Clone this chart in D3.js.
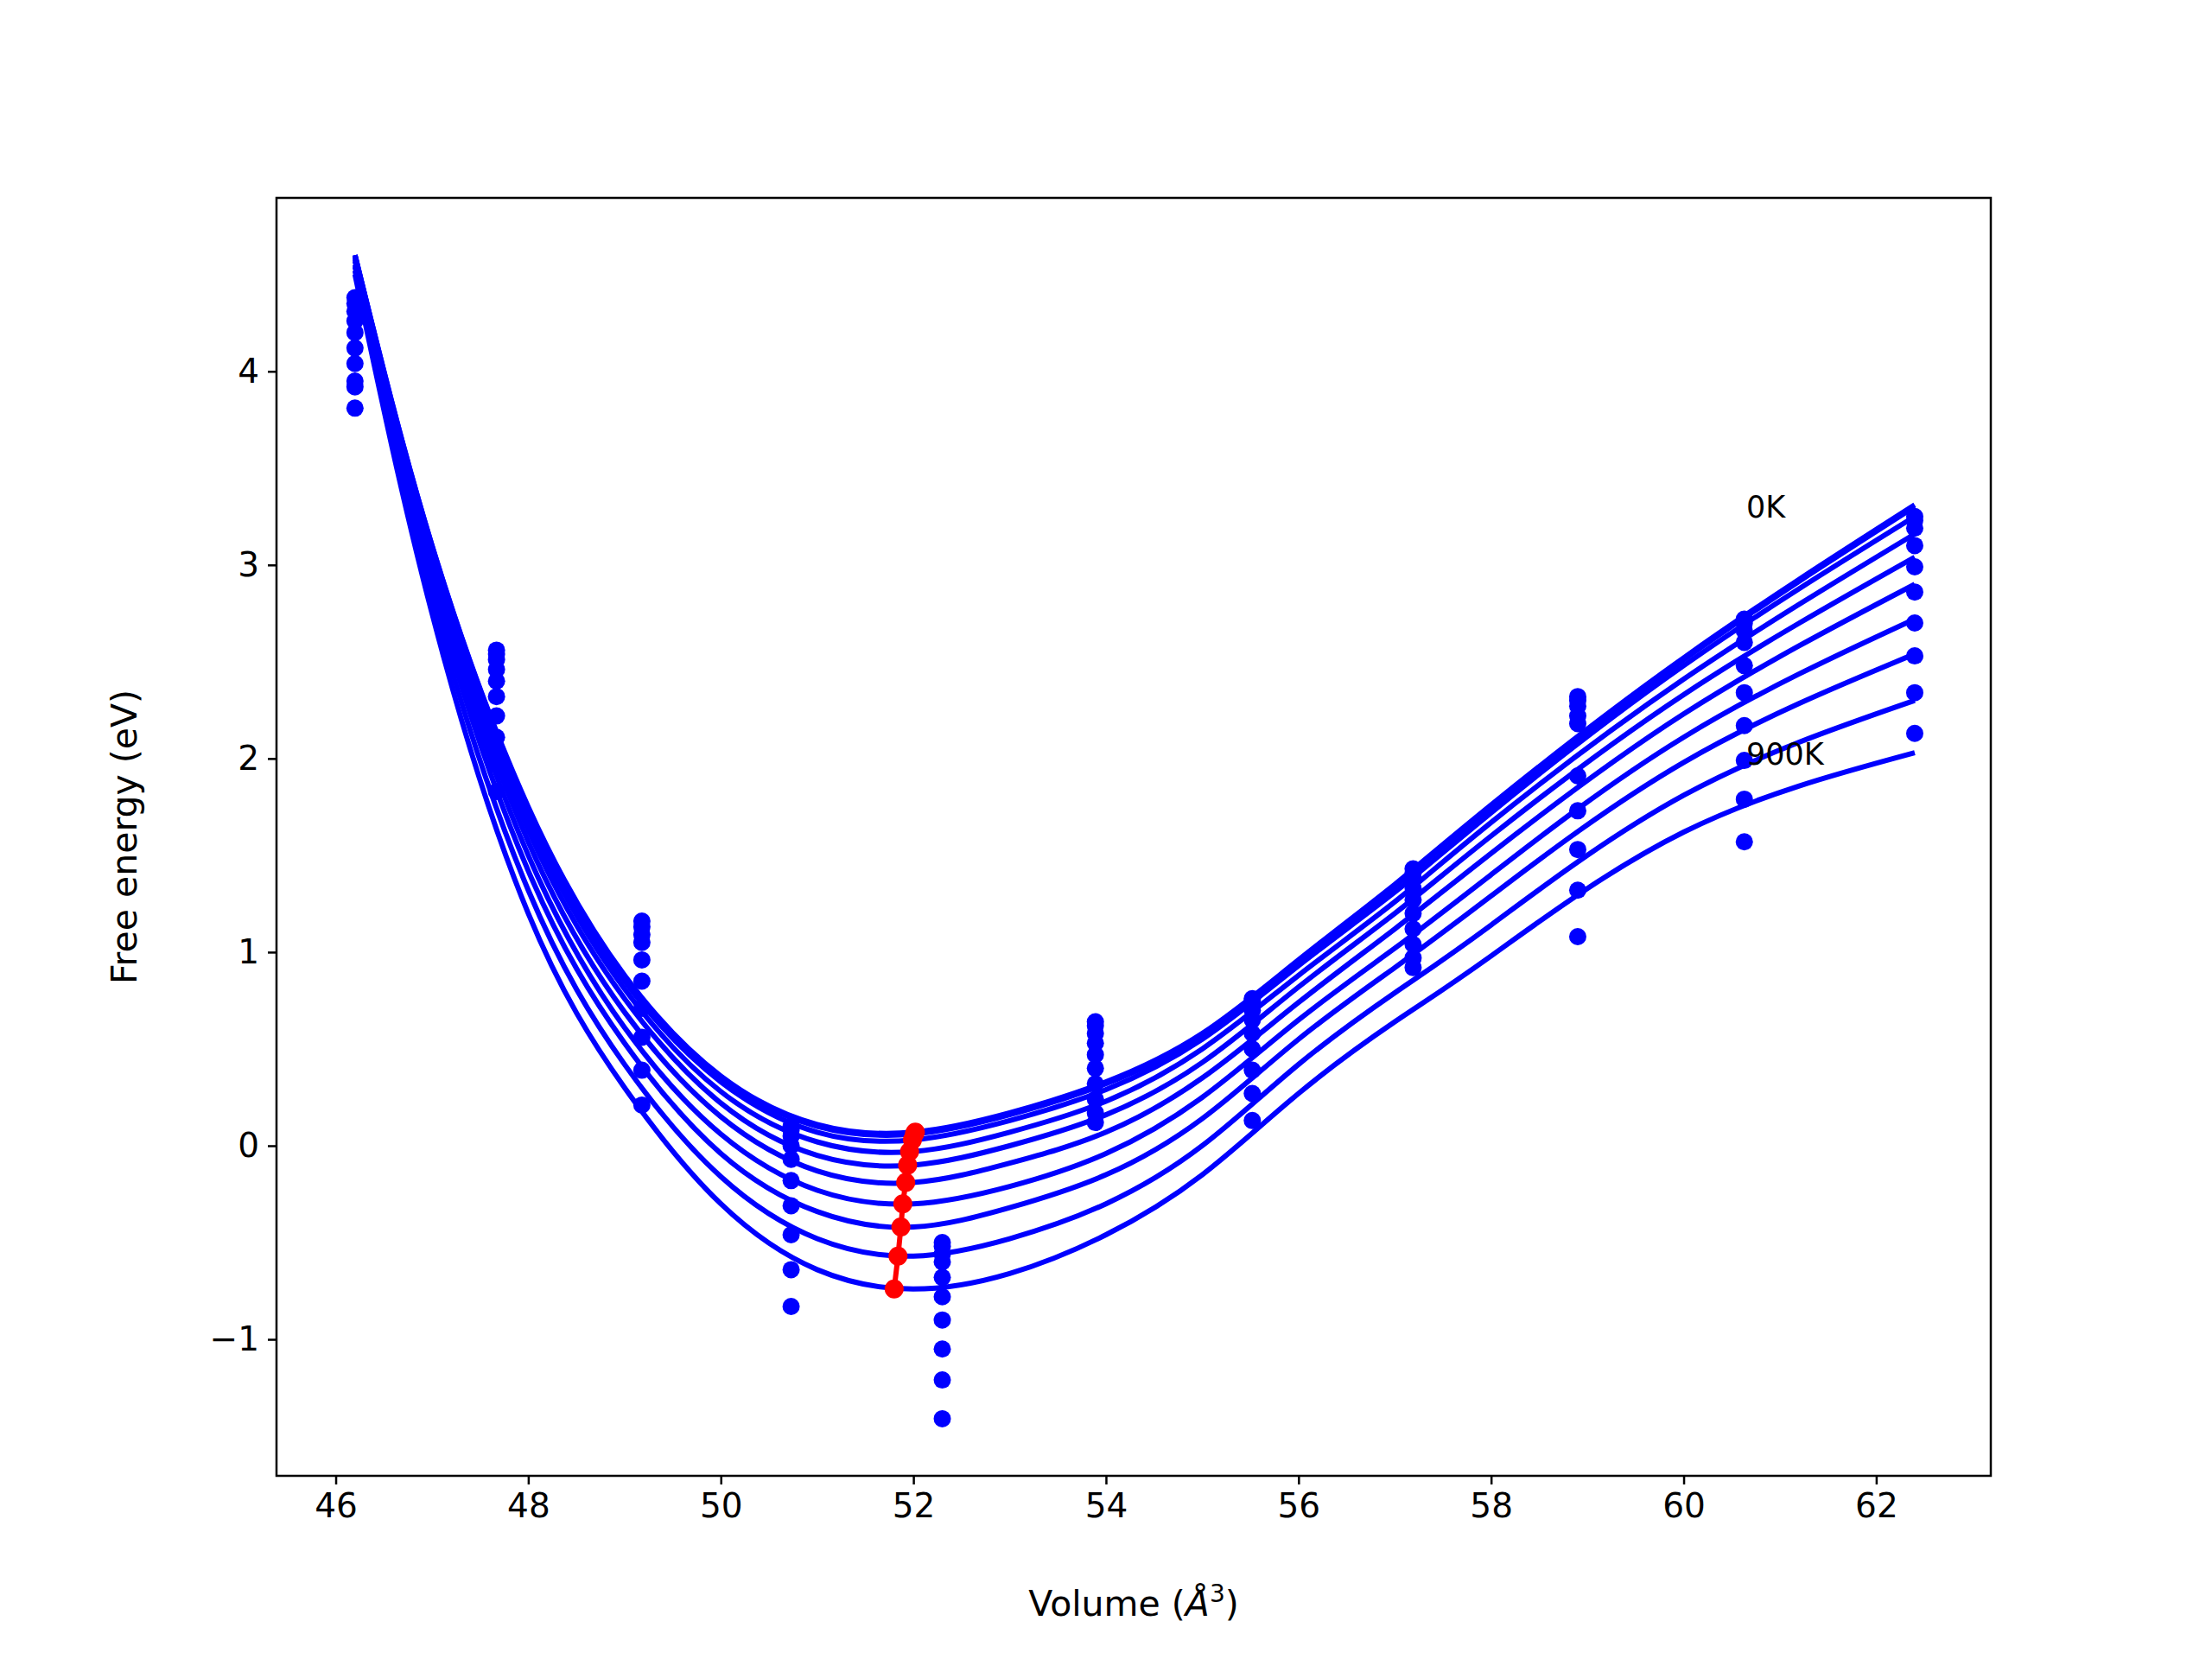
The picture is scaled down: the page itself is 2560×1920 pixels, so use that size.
<!DOCTYPE html>
<html><head><meta charset="utf-8">
<script src="https://cdn.jsdelivr.net/npm/d3@7"></script>
<style>body{margin:0;background:#fff}text{font-family:"DejaVu Sans",sans-serif}</style>
</head><body><svg id="c" width="2560" height="1920"></svg>
<script>
const temps=[0,100,200,300,400,500,600,700,800,900];
const pointVolumes=[46.2,47.67,49.18,50.73,52.3,53.89,55.52,57.19,58.9,60.63,62.4];
// point energies per volume (rows), one value per temperature
const pointEnergies=[
 [4.38,4.35,4.31,4.26,4.20,4.12,4.04,3.95,3.92,3.81],
 [2.56,2.54,2.51,2.46,2.40,2.32,2.22,2.11,1.97,1.83],
 [1.16,1.13,1.09,1.05,0.96,0.85,0.71,0.56,0.39,0.21],
 [0.10,0.08,0.05,0.00,-0.07,-0.18,-0.31,-0.46,-0.64,-0.83],
 [-0.50,-0.52,-0.56,-0.60,-0.68,-0.78,-0.90,-1.05,-1.21,-1.41],
 [0.64,0.62,0.58,0.53,0.47,0.40,0.32,0.24,0.17,0.12],
 [0.76,0.75,0.73,0.70,0.65,0.58,0.50,0.39,0.27,0.13],
 [1.43,1.41,1.38,1.33,1.27,1.20,1.12,1.04,0.97,0.92],
 [2.32,2.30,2.27,2.22,2.18,1.91,1.73,1.53,1.32,1.08],
 [2.72,2.70,2.66,2.60,2.48,2.34,2.17,1.99,1.79,1.57],
 [3.25,3.23,3.19,3.10,2.99,2.86,2.70,2.53,2.34,2.13]];
const curveVolumes=[46.2,47,48,49,50,51,52,53,54,55,56,57,58,60,62.4];
const curveEnergies=[
 [4.60,3.10,1.75,0.88,0.36,0.11,0.07,0.17,0.33,0.58,0.96,1.35,1.76,2.52,3.31],
 [4.60,3.10,1.74,0.87,0.35,0.10,0.06,0.16,0.32,0.57,0.95,1.34,1.75,2.51,3.30],
 [4.60,3.08,1.72,0.85,0.33,0.07,0.03,0.13,0.29,0.55,0.93,1.31,1.72,2.48,3.25],
 [4.59,3.06,1.68,0.81,0.28,0.02,-0.03,0.07,0.23,0.50,0.88,1.26,1.67,2.41,3.16],
 [4.58,3.03,1.63,0.76,0.22,-0.05,-0.10,0.00,0.16,0.43,0.82,1.20,1.60,2.33,3.04],
 [4.57,2.99,1.57,0.69,0.15,-0.13,-0.19,-0.09,0.07,0.35,0.74,1.12,1.51,2.23,2.90],
 [4.55,2.94,1.50,0.61,0.06,-0.23,-0.30,-0.21,-0.04,0.25,0.65,1.02,1.40,2.11,2.72],
 [4.54,2.89,1.42,0.53,-0.04,-0.34,-0.42,-0.32,-0.15,0.14,0.55,0.92,1.29,1.98,2.54],
 [4.52,2.82,1.32,0.42,-0.16,-0.48,-0.57,-0.48,-0.30,0.00,0.42,0.79,1.14,1.81,2.30],
 [4.50,2.75,1.20,0.30,-0.30,-0.64,-0.74,-0.66,-0.46,-0.15,0.27,0.64,0.98,1.62,2.03]];
const minVolumes=[52.02,52.01,51.99,51.96,51.94,51.92,51.89,51.87,51.84,51.80];
const minEnergies=[0.07,0.06,0.03,-0.03,-0.10,-0.19,-0.30,-0.42,-0.57,-0.74];
const xTicks=[46,48,50,52,54,56,58,60,62];
const yTicks=[-1,0,1,2,3,4];

const L=320,R=2304,T=229,B=1708;
const svg=d3.select("#c");
const x=d3.scaleLinear().domain([45.385,63.19]).range([L,R]);
const y=d3.scaleLinear().domain([-1.705,4.896]).range([B,T]);
const blue="#0000ff";
const line=d3.line().x(d=>x(d[0])).y(d=>y(d[1])).curve(d3.curveNatural);
const g=svg.append("g");
curveEnergies.forEach(row=>{
  g.append("path").attr("d",line(curveVolumes.map((v,i)=>[v,row[i]])))
   .attr("fill","none").attr("stroke",blue).attr("stroke-width",6);
});
pointVolumes.forEach((v,i)=>pointEnergies[i].forEach(e=>{
  g.append("circle").attr("cx",x(v)).attr("cy",y(e)).attr("r",10).attr("fill",blue);
}));
const mins=minVolumes.map((v,i)=>[v,minEnergies[i]]);
g.append("path").attr("d",d3.line().x(d=>x(d[0])).y(d=>y(d[1]))(mins))
 .attr("fill","none").attr("stroke","red").attr("stroke-width",6);
mins.forEach(d=>g.append("circle").attr("cx",x(d[0])).attr("cy",y(d[1])).attr("r",11).attr("fill","red"));
svg.append("text").attr("x",x(60.65)).attr("y",y(3.3)+12).attr("font-size",35).text("0K");
svg.append("text").attr("x",x(60.65)).attr("y",y(2.02)+12).attr("font-size",35).text("900K");

const xa=svg.append("g").attr("transform",`translate(0,${B})`)
 .call(d3.axisBottom(x).tickValues(xTicks).tickFormat(d3.format("d")).tickSize(10).tickPadding(10));
const ya=svg.append("g").attr("transform",`translate(${L},0)`)
 .call(d3.axisLeft(y).tickValues(yTicks).tickFormat(d=>d<0?"\u2212"+Math.abs(d):d).tickSize(10).tickPadding(10));
[xa,ya].forEach(a=>{a.select(".domain").remove();a.selectAll("line").attr("stroke","#000").attr("stroke-width",2.5);
 a.selectAll("text").attr("font-size",39).attr("font-family","DejaVu Sans").attr("fill","#000");});
svg.append("rect").attr("x",L).attr("y",T).attr("width",R-L).attr("height",B-T)
 .attr("fill","none").attr("stroke","#000").attr("stroke-width",2.5);
const xl=svg.append("text").attr("x",(L+R)/2).attr("y",1870).attr("text-anchor","middle").attr("font-size",41);
xl.append("tspan").text("Volume (");
xl.append("tspan").attr("font-style","italic").text("Å");
xl.append("tspan").attr("font-size",28).attr("dy",-16).text("3");
xl.append("tspan").attr("dy",16).text(")");
svg.append("text").attr("transform",`translate(158,${(T+B)/2}) rotate(-90)`).attr("text-anchor","middle")
 .attr("font-size",41).text("Free energy (eV)");
</script></body></html>
